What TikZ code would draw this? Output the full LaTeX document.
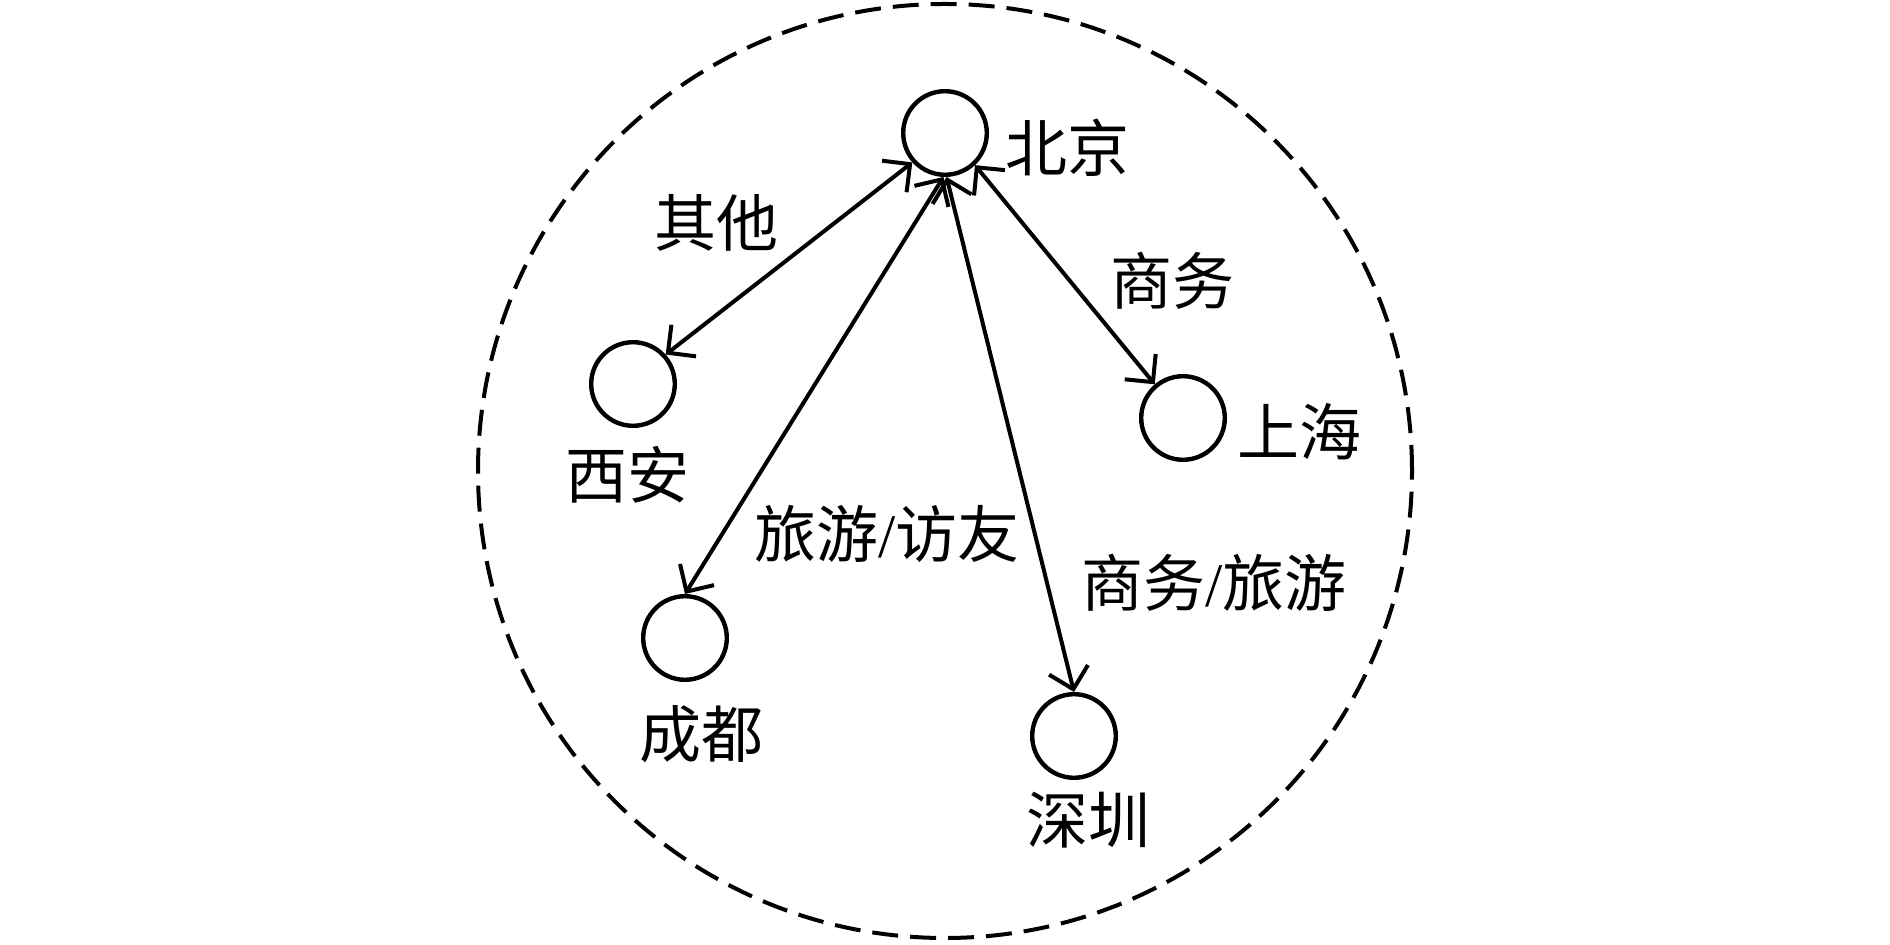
\documentclass[tikz,border=0pt]{standalone}
\usepackage{fontspec}
\setmainfont{Liberation Serif}
\newfontfamily\cjk{Noto Sans CJK SC}
\usetikzlibrary{arrows.meta}
\begin{document}
\begin{tikzpicture}[x=0.5pt,y=-0.5pt,
  city/.style={circle,draw,line width=2.2pt,inner sep=0pt,minimum size=41.8pt},
  lbl/.style={inner sep=0pt,font=\fontsize{31pt}{34pt}\selectfont\cjk},
  link/.style={line width=2pt,{Straight Barb[length=10pt,width=20pt]}-{Straight Barb[length=10pt,width=20pt]}}]
\useasboundingbox (0,0) rectangle (1890,945);
\draw[line width=2pt,dash pattern=on 13pt off 6pt] (945,471) circle[radius=233.5pt];
\node[city] (bj) at (945,133) {};
\node[city] (xa) at (633,384) {};
\node[city] (sh) at (1183,418) {};
\node[city] (cd) at (685,638) {};
\node[city] (sz) at (1074,736) {};
\node[lbl] (lbj) at (1067,148) {北京};
\node[lbl] (lxa) at (627,475) {西安};
\node[lbl] (lsh) at (1299,432) {上海};
\node[lbl] (lcd) at (701,734) {成都};
\node[lbl] (lsz) at (1088,820) {深圳};
\node[lbl] (lqt) at (716,223) {其他};
\node[lbl] (lsw) at (1172,281) {商务};
\node[lbl] (lly) at (887,534) {旅游{\rmfamily/}访友};
\node[lbl] (lsl) at (1214,583) {商务{\rmfamily/}旅游};
\draw[link] (bj.-138) -- (xa.42);
\draw[link] (bj.-92) -- (cd.90);
\draw[link] (bj.-88) -- (sz.90);
\draw[link] (bj.-47) -- (sh.130);
\end{tikzpicture}
\end{document}
